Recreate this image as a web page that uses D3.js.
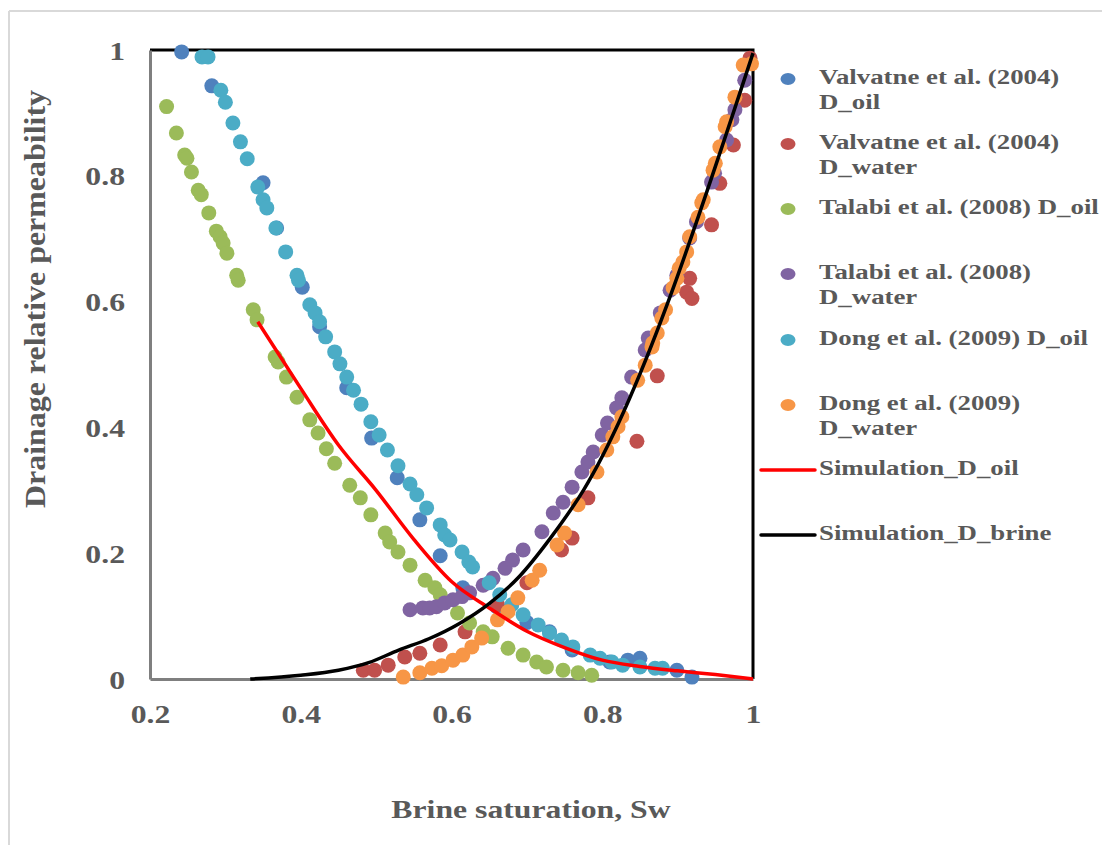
<!DOCTYPE html>
<html><head><meta charset="utf-8">
<script src="https://cdn.jsdelivr.net/npm/d3@7"></script>
<style>body{margin:0;background:#fff}svg{display:block}</style>
</head><body><div id="chart"></div>
<script>
const xTicks=[0.2,0.4,0.6,0.8,1];
const yTicks=[0,0.2,0.4,0.6,0.8,1];
const xTickLabels=["0.2","0.4","0.6","0.8","1"];
const yTickLabels=["0","0.2","0.4","0.6","0.8","1"];
const seriesNames=["Valvatne et al. (2004) D_oil","Valvatne et al. (2004) D_water","Talabi et al. (2008) D_oil","Talabi et al. (2008) D_water","Dong et al. (2009) D_oil","Dong et al. (2009) D_water"];
const seriesColors=["#4F81BD","#C0504D","#9BBB59","#8064A2","#4BACC6","#F79646"];
const valvatneOil=[[0.242,0.997],[0.282,0.943],[0.35,0.789],[0.368,0.717],[0.402,0.623],[0.425,0.56],[0.461,0.463],[0.494,0.383],[0.528,0.32],[0.558,0.253],[0.585,0.196],[0.615,0.145],[0.66,0.115],[0.70,0.09],[0.73,0.075],[0.76,0.046],[0.81,0.027],[0.834,0.03],[0.85,0.033],[0.899,0.014],[0.919,0.003]];
const valvatneWater=[[0.483,0.014],[0.498,0.014],[0.516,0.022],[0.538,0.035],[0.558,0.041],[0.585,0.054],[0.618,0.075],[0.661,0.118],[0.70,0.153],[0.746,0.205],[0.76,0.224],[0.781,0.288],[0.846,0.378],[0.873,0.482],[0.912,0.615],[0.919,0.605],[0.916,0.637],[0.945,0.722],[0.956,0.788],[0.974,0.849],[0.989,0.92],[0.996,0.987]];
const talabiOil=[[0.222,0.91],[0.235,0.868],[0.246,0.833],[0.249,0.828],[0.255,0.806],[0.264,0.777],[0.268,0.77],[0.278,0.741],[0.288,0.712],[0.293,0.703],[0.297,0.693],[0.302,0.677],[0.315,0.642],[0.317,0.634],[0.337,0.587],[0.342,0.571],[0.366,0.512],[0.37,0.504],[0.381,0.48],[0.395,0.448],[0.412,0.412],[0.423,0.391],[0.434,0.366],[0.445,0.343],[0.465,0.308],[0.479,0.288],[0.493,0.261],[0.512,0.232],[0.518,0.218],[0.529,0.202],[0.545,0.181],[0.565,0.157],[0.578,0.145],[0.585,0.134],[0.608,0.105],[0.624,0.089],[0.642,0.075],[0.654,0.067],[0.675,0.049],[0.695,0.038],[0.713,0.027],[0.726,0.019],[0.748,0.014],[0.768,0.01],[0.786,0.006]];
const talabiWater=[[0.545,0.11],[0.562,0.113],[0.571,0.113],[0.58,0.115],[0.591,0.121],[0.602,0.126],[0.614,0.131],[0.624,0.137],[0.642,0.149],[0.655,0.16],[0.671,0.176],[0.681,0.189],[0.695,0.205],[0.72,0.234],[0.735,0.264],[0.748,0.281],[0.76,0.305],[0.773,0.329],[0.781,0.345],[0.788,0.361],[0.80,0.388],[0.807,0.407],[0.819,0.431],[0.826,0.447],[0.839,0.48],[0.857,0.523],[0.861,0.542],[0.877,0.582],[0.89,0.618],[0.899,0.642],[0.916,0.701],[0.925,0.727],[0.945,0.79],[0.949,0.804],[0.965,0.857],[0.972,0.889],[0.976,0.905],[0.989,0.952]];
const dongOil=[[0.269,0.989],[0.277,0.989],[0.294,0.936],[0.30,0.917],[0.31,0.884],[0.32,0.854],[0.329,0.827],[0.343,0.782],[0.35,0.762],[0.355,0.749],[0.367,0.717],[0.38,0.679],[0.395,0.642],[0.397,0.634],[0.412,0.595],[0.419,0.582],[0.425,0.568],[0.433,0.544],[0.445,0.52],[0.452,0.501],[0.461,0.48],[0.47,0.459],[0.48,0.437],[0.493,0.409],[0.504,0.388],[0.515,0.364],[0.529,0.339],[0.545,0.31],[0.554,0.293],[0.567,0.272],[0.585,0.245],[0.591,0.229],[0.598,0.221],[0.614,0.202],[0.623,0.186],[0.628,0.178],[0.65,0.153],[0.664,0.134],[0.68,0.118],[0.695,0.102],[0.715,0.086],[0.73,0.073],[0.746,0.062],[0.761,0.051],[0.784,0.038],[0.797,0.033],[0.813,0.027],[0.827,0.022],[0.85,0.019],[0.87,0.017],[0.88,0.017]];
const dongWater=[[0.536,0.003],[0.558,0.01],[0.574,0.017],[0.587,0.021],[0.602,0.03],[0.615,0.038],[0.627,0.051],[0.64,0.065],[0.661,0.094],[0.675,0.107],[0.688,0.129],[0.707,0.157],[0.717,0.173],[0.74,0.213],[0.75,0.232],[0.768,0.277],[0.793,0.329],[0.806,0.364],[0.814,0.385],[0.821,0.401],[0.826,0.417],[0.847,0.475],[0.857,0.499],[0.866,0.528],[0.867,0.534],[0.873,0.55],[0.879,0.574],[0.884,0.587],[0.894,0.622],[0.899,0.637],[0.902,0.653],[0.907,0.663],[0.912,0.679],[0.916,0.703],[0.927,0.734],[0.932,0.757],[0.934,0.762],[0.947,0.809],[0.95,0.82],[0.956,0.846],[0.963,0.878],[0.965,0.886],[0.976,0.925],[0.987,0.976],[0.998,0.978]];
const simOil=[[0.343,0.568],[0.40,0.462],[0.45,0.372],[0.50,0.30],[0.55,0.222],[0.60,0.155],[0.65,0.113],[0.70,0.076],[0.75,0.05],[0.80,0.03],[0.85,0.02],[0.90,0.013],[0.95,0.007],[1.0,0.0]];
const simBrine=[[0.333,0.0],[0.40,0.006],[0.45,0.014],[0.49,0.026],[0.53,0.046],[0.57,0.064],[0.61,0.088],[0.65,0.12],[0.69,0.163],[0.73,0.222],[0.775,0.30],[1.0,0.995]];
const lineNames=["Simulation_D_oil","Simulation_D_brine"];
const lineColors=["#FF0000","#000000"];

const allSeries=[valvatneOil,valvatneWater,talabiOil,talabiWater,dongOil,dongWater];
const W=1102,H=845;
const SX=1.22;
const svg=d3.select("#chart").append("svg").attr("width",W).attr("height",H);
const font="'Liberation Serif','Times New Roman',serif";
const txt="#595959";

svg.append("line").attr("x1",9).attr("x2",9).attr("y1",11).attr("y2",H).attr("stroke","#d9d9d9").attr("stroke-width",2);
svg.append("line").attr("x1",9).attr("x2",W).attr("y1",11).attr("y2",11).attr("stroke","#d9d9d9").attr("stroke-width",2);

const x=d3.scaleLinear().domain([0.2,1]).range([150,753]);
const y=d3.scaleLinear().domain([0,1]).range([679,50]);

svg.append("path").attr("d",`M${x(0.2)},${y(1)}H${x(1)}V${y(0)}`).attr("fill","none").attr("stroke","#000").attr("stroke-width",3);

const xAxis=d3.axisBottom(x).tickValues(xTicks).tickFormat((d,i)=>xTickLabels[i]).tickSize(0).tickPadding(26);
const yAxis=d3.axisLeft(y).tickValues(yTicks).tickFormat((d,i)=>yTickLabels[i]).tickSize(0).tickPadding(25);
const gx=svg.append("g").attr("transform",`translate(0,${y(0)})`).call(xAxis);
const gy=svg.append("g").attr("transform",`translate(${x(0.2)},0)`).call(yAxis);
[gx,gy].forEach(g=>{
  g.select(".domain").attr("stroke","#7f7f7f").attr("stroke-width",3);
  g.selectAll("text").attr("font-family",font).attr("font-weight","bold").attr("font-size",26).attr("fill",txt);
});
gx.selectAll("text").attr("dy","0.71em").attr("transform",`scale(${SX},1)`);
gy.selectAll("text").attr("dy","0.35em").attr("x",0).attr("transform",`translate(-25,0) scale(${SX},1)`);

const lg=d3.line().x(d=>x(d[0])).y(d=>y(d[1])).curve(d3.curveMonotoneX);

allSeries.forEach((s,i)=>{
  svg.append("g").selectAll("circle").data(s).join("circle")
    .attr("cx",d=>x(d[0])).attr("cy",d=>y(d[1])).attr("r",7.5).attr("fill",seriesColors[i]);
});
[simOil,simBrine].forEach((s,i)=>{
  svg.append("path").datum(s).attr("d",lg).attr("fill","none").attr("stroke",lineColors[i]).attr("stroke-width",3.5);
});

function stext(px,py,size,str,anchor){
  return svg.append("text").attr("transform",`translate(${px},${py}) scale(${SX},1)`)
    .attr("text-anchor",anchor||"start").attr("dominant-baseline","middle")
    .attr("font-family",font).attr("font-weight","bold").attr("font-size",size).attr("fill",txt).text(str);
}
stext(531,812,26,"Brine saturation, Sw","middle");
svg.append("text").attr("transform",`translate(38,299) rotate(-90) scale(1,${SX})`).attr("text-anchor","middle").attr("dominant-baseline","middle")
  .attr("font-family",font).attr("font-weight","bold").attr("font-size",25).attr("fill",txt)
  .attr("textLength",418).attr("lengthAdjust","spacingAndGlyphs").text("Drainage relative permeability");

const legendLines=[["Valvatne et al. (2004)","D_oil"],["Valvatne et al. (2004)","D_water"],["Talabi et al. (2008) D_oil"],["Talabi et al. (2008)","D_water"],["Dong et al. (2009) D_oil"],["Dong et al. (2009)","D_water"]];
const legY=[79,144,209,274,340,405];
legendLines.forEach((ls,i)=>{
  svg.append("ellipse").attr("cx",788).attr("cy",legY[i]).attr("rx",7.5).attr("ry",6).attr("fill",seriesColors[i]);
  ls.forEach((l,j)=>stext(819,legY[i]+j*25,22,l));
});
const lineLegY=[470,535];
lineNames.forEach((n,i)=>{
  svg.append("line").attr("x1",761).attr("x2",815).attr("y1",lineLegY[i]).attr("y2",lineLegY[i]).attr("stroke",lineColors[i]).attr("stroke-width",3.5).attr("stroke-linecap","round");
  stext(819,lineLegY[i],22,n);
});
</script></body></html>
